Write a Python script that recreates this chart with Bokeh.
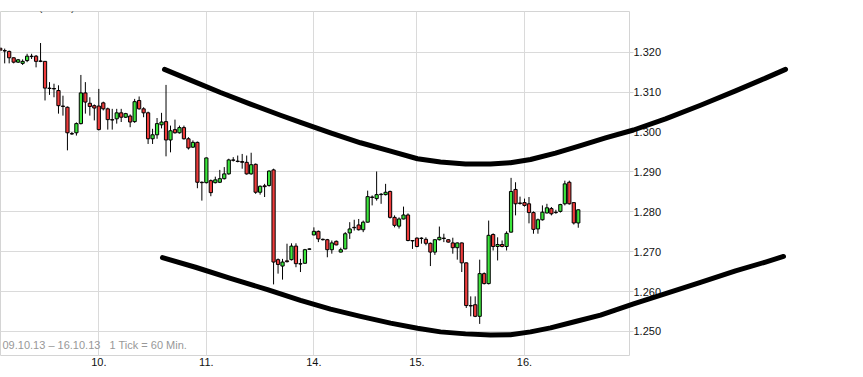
from bokeh.plotting import figure
from bokeh.models import (ColumnDataSource, FixedTicker, Range1d, Label,
                          NumeralTickFormatter)
from bokeh.embed import file_html
from bokeh.resources import INLINE

# ---- data (hourly candles, Gold RTFX, 09.10.13 - 16.10.13) ----
open_ = [1.3210, 1.3204, 1.3202, 1.3186, 1.3175, 1.3172, 1.3179, 1.3190, 1.3190, 1.3178,
         1.3177, 1.3110, 1.3109, 1.3104, 1.3065, 1.3062, 1.2996, 1.2998, 1.3021, 1.3098,
         1.3072, 1.3066, 1.3065, 1.3073, 1.3058, 1.3031, 1.3033, 1.3048, 1.3037, 1.3040,
         1.3026, 1.3079, 1.3058, 1.3048, 1.2983, 1.2993, 1.3018, 1.3026, 1.2980, 1.3006,
         1.2998, 1.3011, 1.2983, 1.2962, 1.2974, 1.2874, 1.2873, 1.2878, 1.2873, 1.2874,
         1.2883, 1.2895, 1.2930, 1.2927, 1.2926, 1.2924, 1.2895, 1.2919, 1.2849, 1.2865,
         1.2866, 1.2905, 1.2680, 1.2664, 1.2677, 1.2680, 1.2714, 1.2670, 1.2671, 1.2706,
         1.2742, 1.2751, 1.2731, 1.2730, 1.2705, 1.2726, 1.2699, 1.2707, 1.2747, 1.2761,
         1.2767, 1.2755, 1.2774, 1.2837, 1.2833, 1.2843, 1.2843, 1.2851, 1.2786, 1.2764,
         1.2782, 1.2792, 1.2728, 1.2734, 1.2734, 1.2731, 1.2721, 1.2699, 1.2730, 1.2734,
         1.2730, 1.2722, 1.2710, 1.2722, 1.2672, 1.2565, 1.2567, 1.2538, 1.2645, 1.2620,
         1.2743, 1.2713, 1.2718, 1.2713, 1.2749, 1.2856, 1.2822, 1.2823, 1.2820, 1.2798,
         1.2757, 1.2780, 1.2797, 1.2808, 1.2799, 1.2801, 1.2820, 1.2874, 1.2823, 1.2772]
high = [1.3212, 1.3209, 1.3204, 1.3187, 1.3183, 1.3182, 1.3196, 1.3196, 1.3193, 1.3223,
        1.3178, 1.3125, 1.3121, 1.3117, 1.3091, 1.3064, 1.3000, 1.3024, 1.3143, 1.3125,
        1.3087, 1.3069, 1.3108, 1.3076, 1.3061, 1.3058, 1.3058, 1.3058, 1.3048, 1.3044,
        1.3083, 1.3089, 1.3062, 1.3051, 1.3008, 1.3035, 1.3048, 1.3118, 1.3016, 1.3031,
        1.3016, 1.3016, 1.2987, 1.2979, 1.2976, 1.2876, 1.2936, 1.2881, 1.2888, 1.2905,
        1.2912, 1.2933, 1.2937, 1.2941, 1.2945, 1.2941, 1.2948, 1.2921, 1.2866, 1.2870,
        1.2904, 1.2908, 1.2683, 1.2682, 1.2720, 1.2721, 1.2721, 1.2682, 1.2707, 1.2708,
        1.2761, 1.2753, 1.2733, 1.2732, 1.2728, 1.2728, 1.2710, 1.2749, 1.2774, 1.2780,
        1.2782, 1.2778, 1.2853, 1.2841, 1.2901, 1.2847, 1.2870, 1.2853, 1.2791, 1.2786,
        1.2813, 1.2796, 1.2729, 1.2736, 1.2736, 1.2736, 1.2723, 1.2731, 1.2763, 1.2745,
        1.2731, 1.2735, 1.2723, 1.2723, 1.2673, 1.2588, 1.2588, 1.2680, 1.2648, 1.2778,
        1.2746, 1.2736, 1.2728, 1.2751, 1.2885, 1.2874, 1.2838, 1.2833, 1.2837, 1.2801,
        1.2783, 1.2816, 1.2820, 1.2812, 1.2805, 1.2820, 1.2878, 1.2878, 1.2823, 1.2806]
low = [1.3203, 1.3172, 1.3172, 1.3172, 1.3173, 1.3168, 1.3175, 1.3183, 1.3162, 1.3175,
       1.3079, 1.3093, 1.3087, 1.3046, 1.3041, 1.2954, 1.2993, 1.2991, 1.3019, 1.3046,
       1.3041, 1.3029, 1.3004, 1.3054, 1.3006, 1.3006, 1.3021, 1.3025, 1.3035, 1.3012,
       1.3023, 1.3056, 1.3037, 1.2970, 1.2970, 1.2983, 1.3009, 1.2939, 1.2949, 1.2996,
       1.2996, 1.2981, 1.2956, 1.2960, 1.2859, 1.2828, 1.2871, 1.2839, 1.2871, 1.2872,
       1.2881, 1.2893, 1.2926, 1.2924, 1.2908, 1.2893, 1.2893, 1.2845, 1.2843, 1.2837,
       1.2863, 1.2618, 1.2645, 1.2630, 1.2673, 1.2678, 1.2661, 1.2649, 1.2670, 1.2705,
       1.2741, 1.2724, 1.2728, 1.2686, 1.2695, 1.2716, 1.2698, 1.2706, 1.2732, 1.2753,
       1.2753, 1.2749, 1.2773, 1.2816, 1.2828, 1.2820, 1.2841, 1.2783, 1.2761, 1.2758,
       1.2781, 1.2726, 1.2707, 1.2711, 1.2720, 1.2716, 1.2664, 1.2692, 1.2728, 1.2724,
       1.2723, 1.2695, 1.2680, 1.2649, 1.2559, 1.2538, 1.2536, 1.2519, 1.2618, 1.2618,
       1.2703, 1.2678, 1.2711, 1.2703, 1.2748, 1.2791, 1.2818, 1.2813, 1.2771, 1.2745,
       1.2745, 1.2778, 1.2796, 1.2791, 1.2795, 1.2798, 1.2816, 1.2818, 1.2768, 1.2760]
close = [1.3205, 1.3203, 1.3186, 1.3175, 1.3181, 1.3177, 1.3190, 1.3189, 1.3177, 1.3177,
         1.3110, 1.3109, 1.3108, 1.3066, 1.3064, 1.2998, 1.2995, 1.3021, 1.3098, 1.3075,
         1.3064, 1.3060, 1.3006, 1.3058, 1.3031, 1.3030, 1.3048, 1.3037, 1.3046, 1.3025,
         1.3076, 1.3058, 1.3048, 1.2983, 1.2993, 1.3021, 1.3025, 1.2980, 1.3003, 1.2998,
         1.3011, 1.2983, 1.2960, 1.2974, 1.2874, 1.2873, 1.2935, 1.2848, 1.2880, 1.2883,
         1.2895, 1.2930, 1.2929, 1.2926, 1.2924, 1.2895, 1.2918, 1.2849, 1.2864, 1.2863,
         1.2902, 1.2674, 1.2668, 1.2674, 1.2675, 1.2714, 1.2670, 1.2669, 1.2705, 1.2707,
         1.2751, 1.2732, 1.2730, 1.2705, 1.2722, 1.2717, 1.2705, 1.2745, 1.2757, 1.2760,
         1.2755, 1.2774, 1.2838, 1.2836, 1.2843, 1.2844, 1.2849, 1.2786, 1.2766, 1.2782,
         1.2792, 1.2728, 1.2727, 1.2713, 1.2733, 1.2721, 1.2699, 1.2730, 1.2736, 1.2733,
         1.2724, 1.2710, 1.2722, 1.2672, 1.2565, 1.2564, 1.2538, 1.2645, 1.2620, 1.2741,
         1.2713, 1.2718, 1.2713, 1.2746, 1.2851, 1.2820, 1.2821, 1.2816, 1.2798, 1.2756,
         1.2780, 1.2799, 1.2810, 1.2795, 1.2798, 1.2818, 1.2870, 1.2820, 1.2772, 1.2805]

day_ticks = [22, 46, 70, 93, 117]
day_labels = ["10.", "11.", "14.", "15.", "16."]
price_ticks = [1.250, 1.260, 1.270, 1.280, 1.290, 1.300, 1.310, 1.320]

# hand-drawn trend channel (x in candle index units)
upper_x = [36.66, 42.46, 49.16, 55.85, 62.55, 67.01, 73.71, 80.40, 87.10, 93.12, 98.25, 103.83,
           109.41, 113.88, 118.34, 123.92, 129.50, 135.08, 141.33, 148.47, 156.28, 164.09, 170.79, 175.25]
upper_y = [1.3157, 1.3130, 1.3099, 1.3070, 1.3042, 1.3024, 1.2998, 1.2973, 1.2952, 1.2933, 1.2925, 1.2920,
           1.2920, 1.2923, 1.2931, 1.2947, 1.2966, 1.2985, 1.3005, 1.3033, 1.3067, 1.3103, 1.3135, 1.3157]
lower_x = [36.21, 43.58, 51.39, 59.65, 67.01, 73.71, 80.40, 87.10, 93.12, 98.25, 103.83, 109.41,
           113.88, 118.34, 122.80, 128.38, 133.96, 141.33, 148.47, 156.28, 164.09, 170.79, 174.80]
lower_y = [1.2685, 1.2661, 1.2633, 1.2605, 1.2578, 1.2556, 1.2538, 1.2521, 1.2508, 1.2499, 1.2494, 1.2491,
           1.2492, 1.2499, 1.2509, 1.2525, 1.2541, 1.2569, 1.2595, 1.2623, 1.2652, 1.2674, 1.2688]

RED = "#ee3c3c"
GREEN = "#3ce63c"

idx = list(range(len(open_)))
src = ColumnDataSource(dict(
    x=idx, high=high, low=low,
    top=[max(o, c) for o, c in zip(open_, close)],
    bottom=[min(o, c) for o, c in zip(open_, close)],
    color=[GREEN if c >= o else RED for o, c in zip(open_, close)],
))

p = figure(width=860, height=375, output_backend="svg", toolbar_location=None,
           x_range=Range1d(0.0625, 140.43), y_range=Range1d(1.24398, 1.33020),
           y_axis_location="right",
           min_border_left=0, min_border_right=231, min_border_top=11, min_border_bottom=20)
p.background_fill_color = "white"
p.border_fill_color = "white"
p.outline_line_color = "#d4d4d4"
p.outline_line_width = 1

# axes
p.xaxis.ticker = FixedTicker(ticks=day_ticks)
p.xaxis.major_label_overrides = {t: l for t, l in zip(day_ticks, day_labels)}
p.xaxis.axis_line_color = None
p.xaxis.major_tick_line_color = None
p.xaxis.minor_tick_line_color = None
p.xaxis.major_tick_out = 0
p.xaxis.major_tick_in = 0
p.xaxis.major_label_standoff = 2
p.xaxis.major_label_text_font = "Liberation Sans"
p.xaxis.major_label_text_font_size = "11px"
p.xaxis.major_label_text_color = "#111111"

p.yaxis.ticker = FixedTicker(ticks=price_ticks)
p.yaxis.formatter = NumeralTickFormatter(format="0.000")
p.yaxis.axis_line_color = None
p.yaxis.minor_tick_line_color = None
p.yaxis.major_tick_out = 4
p.yaxis.major_tick_in = 0
p.yaxis.major_tick_line_color = "#d4d4d4"
p.yaxis.major_label_standoff = 0
p.yaxis.major_label_text_font = "Liberation Sans"
p.yaxis.major_label_text_font_size = "11px"
p.yaxis.major_label_text_color = "#111111"

p.grid.grid_line_color = "#dadada"
p.grid.grid_line_width = 1

# candles
p.segment(x0="x", y0="low", x1="x", y1="high", source=src, line_color="black", line_width=1)
p.vbar(x="x", width=0.72, top="top", bottom="bottom", source=src,
       fill_color="color", line_color="black", line_width=1)

# channel curves, drawn on the overlay level so that they can run past the frame
for cx, cy in ((upper_x, upper_y), (lower_x, lower_y)):
    p.line(cx, cy, line_color="black", line_width=5, line_cap="round",
           line_join="round", level="overlay")

# info texts
p.add_layout(Label(x=0.509, y=1.24662, text="09.10.13 \u2013 16.10.13", text_baseline="middle",
                   text_font="Liberation Sans", text_font_size="11px", text_color="#989898"))
p.add_layout(Label(x=24.39, y=1.24662, text="1 Tick = 60 Min.", text_baseline="middle",
                   text_font="Liberation Sans", text_font_size="11px", text_color="#989898"))
# legend entry cut by the top edge of the picture
p.add_layout(Label(x=0.0625, y=1.33133, text="\u25a0", text_baseline="alphabetic",
                   text_font="DejaVu Sans", text_font_size="10px", text_color=GREEN))
p.add_layout(Label(x=2.74, y=1.33133, text="Gold (RTFX)", text_baseline="alphabetic",
                   text_font="Liberation Sans", text_font_size="11px", text_color="#111111"))

open("out.html", "w").write(file_html(p, INLINE))
